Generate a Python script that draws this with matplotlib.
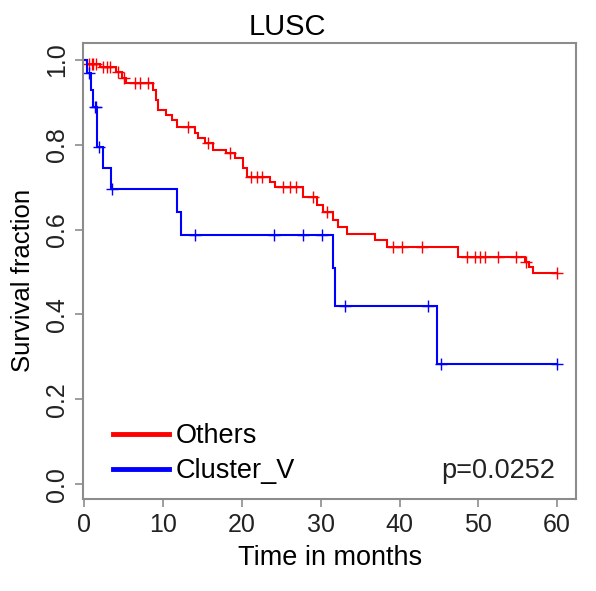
import numpy as np
import matplotlib
matplotlib.use("Agg")
import matplotlib.pyplot as plt

plt.rcParams['font.family'] = ['Liberation Sans', 'DejaVu Sans']

# Kaplan-Meier steps: event times (months) and survival after each event
others_time = [0, 0.3, 2.0, 4.0, 4.7, 5.3, 8.7, 9.1, 9.3, 10.4, 11.1, 11.7, 14.0, 14.4,
               15.3, 16.3, 18.0, 19.1, 20.1, 20.6, 23.5, 24.2, 27.7, 29.5, 30.3, 31.6,
               32.2, 33.3, 36.9, 38.4, 47.4, 55.9, 56.4, 57.0]
others_surv = [1.0, 0.991, 0.983, 0.972, 0.957, 0.946, 0.929, 0.906, 0.882, 0.870, 0.858,
               0.842, 0.828, 0.816, 0.804, 0.788, 0.780, 0.768, 0.745, 0.725, 0.712, 0.701,
               0.677, 0.658, 0.642, 0.622, 0.607, 0.590, 0.576, 0.560, 0.535, 0.524, 0.511,
               0.498]
others_censor = [0.6, 0.9, 1.1, 1.5, 2.4, 2.8, 3.3, 4.2, 5.0, 6.4, 7.0, 8.1, 13.2, 15.7,
                 18.5, 21.2, 21.9, 22.6, 25.2, 26.1, 26.9, 29.0, 30.8, 39.2, 40.3, 42.8,
                 48.5, 49.6, 50.2, 50.8, 52.5, 54.8, 56.0, 60.0]

cluster_time = [0, 0.3, 0.8, 1.1, 1.6, 2.3, 3.4, 11.7, 12.3, 31.6, 31.8, 44.8]
cluster_surv = [1.0, 0.969, 0.929, 0.889, 0.796, 0.745, 0.695, 0.642, 0.587, 0.510,
                0.420, 0.283]
cluster_censor = [0.6, 1.3, 1.45, 1.9, 3.5, 14.0, 24.0, 27.7, 30.2, 33.1, 43.6, 45.3, 60.0]

groups = ['Others', 'Cluster_V']
colors = ['#ff0000', '#0000ff']
p_value = 0.0252
x_ticks = [0, 10, 20, 30, 40, 50, 60]
y_ticks = [0.0, 0.2, 0.4, 0.6, 0.8, 1.0]


def km_curve(ax, times, surv, censor, color, label):
    times = np.asarray(times)
    surv = np.asarray(surv)
    end = max(censor)
    ax.step(np.append(times, end), np.append(surv, surv[-1]), where='post',
            color=color, lw=1.5, label=label, solid_joinstyle='miter')
    # censored observations sit on the curve at their time
    idx = np.searchsorted(times, censor, side='right') - 1
    ax.plot(censor, surv[idx], ls='none', marker='+', ms=8.5, mew=1.0, color=color)


fig = plt.figure(figsize=(5.96, 5.91), dpi=100)
ax = fig.add_axes([83.3 / 596, 92 / 591, 492.7 / 596, 456 / 591])

km_curve(ax, others_time, others_surv, others_censor, colors[0], groups[0])
km_curve(ax, cluster_time, cluster_surv, cluster_censor, colors[1], groups[1])

ax.set_xlim(-0.15, 62.4)
ax.set_ylim(-0.035, 1.04)
ax.set_xticks(x_ticks)
ax.set_yticks(y_ticks)
ax.set_yticklabels([f'{v:.1f}' for v in y_ticks], rotation=90, va='center')

for s in ax.spines.values():
    s.set_color('#8c8c8c')
    s.set_linewidth(1.5)
ax.tick_params(axis='both', colors='#8c8c8c', labelcolor='#222222', labelsize=18,
               length=6, width=1.2, pad=4)

ax.set_title('LUSC', fontsize=21, x=0.414, pad=6)
ax.set_xlabel('Time in months', fontsize=19.5, labelpad=6)
ax.set_ylabel('Survival fraction', fontsize=18.5)
ax.yaxis.set_label_coords(-0.098, 0.48)

leg = ax.legend(loc='center left', bbox_to_anchor=(0.0603, 0.0993), frameon=False,
                fontsize=19.5, handlelength=2.05, handletextpad=0.25,
                labelspacing=0.35, borderpad=0, borderaxespad=0)
for line in leg.get_lines():
    line.set_linewidth(3.5)

ax.text(0.957, 0.062, f'p={p_value}', transform=ax.transAxes, ha='right',
        va='center', fontsize=19.5, color='#222222')

fig.savefig('out.png', dpi=100)
